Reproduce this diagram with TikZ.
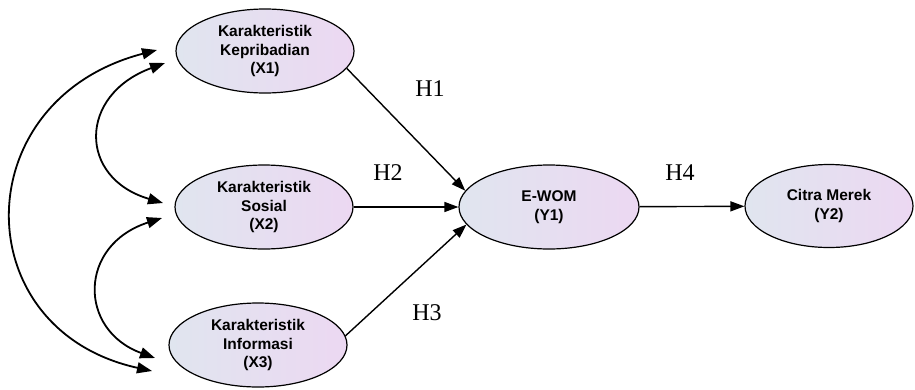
\documentclass[tikz,border=0pt]{standalone}
\usepackage{fontspec}
\setmainfont{Liberation Serif}
\setsansfont{Liberation Sans}
\usetikzlibrary{shapes.geometric,arrows.meta}
\definecolor{shL}{RGB}{224,229,239}
\definecolor{shR}{RGB}{236,216,242}
\begin{document}
\begin{tikzpicture}[x=1pt,y=-1pt,
  var/.style={ellipse, draw, line width=1.2pt, minimum width=178pt, minimum height=84pt,
    inner sep=0pt, left color=shL, right color=shR, align=center,
    font=\sffamily\bfseries\fontsize{15.5}{18.5}\selectfont},
  hyp/.style={font=\fontsize{24}{28}\selectfont},
  arr/.style={-{Triangle[length=14pt,width=10pt]}, line width=1.4pt},
  cov/.style={{Triangle[length=15pt,width=11pt]}-{Triangle[length=15pt,width=11pt]}, line width=1.8pt}]
\useasboundingbox (0,0) rectangle (915,389);

\node[var] (x1) at (265,51) {Karakteristik\\Kepribadian\\(X1)};
\node[var] (x2) at (264,207) {Karakteristik\\Sosial\\(X2)};
\node[var] (x3) at (258,345) {Karakteristik\\Informasi\\(X3)};
\node[var, minimum width=180pt] (y1) at (549,207) {E-WOM\\(Y1)};
\node[var, minimum width=168pt, minimum height=83pt] (y2) at (829,206) {Citra Merek\\(Y2)};

\node[hyp] (h1) at (430,89) {H1};
\node[hyp] (h2) at (388,173) {H2};
\node[hyp] (h3) at (427,313) {H3};
\node[hyp] (h4) at (680,173) {H4};

\draw[arr] (x1.-12) -- (y1.169);
\draw[arr] (x2) -- (y1);
\draw[arr] (x3.6) -- (y1.192);
\draw[arr] (y1) -- (y2);

\coordinate (o1) at (157,50);
\coordinate (o3) at (152,371);
\coordinate (i1) at (165,63);
\coordinate (i2) at (163,203);
\coordinate (j2) at (162,218);
\coordinate (j3) at (155,358);

\draw[cov] (o1) .. controls (-35,100) and (-35,330) .. (o3);
\draw[cov] (i1) .. controls (78,95) and (78,178) .. (i2);
\draw[cov] (j2) .. controls (78,245) and (78,330) .. (j3);
\end{tikzpicture}
\end{document}
